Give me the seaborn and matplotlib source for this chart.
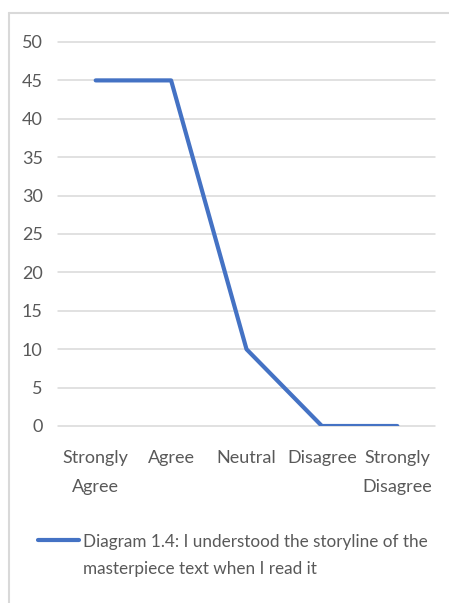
import matplotlib
matplotlib.use("Agg")
import matplotlib.pyplot as plt
from matplotlib.lines import Line2D
from matplotlib.offsetbox import HPacker
import seaborn as sns
import pandas as pd

categories = ["Strongly\nAgree", "Agree", "Neutral", "Disagree", "Strongly\nDisagree"]
values = [45, 45, 10, 0, 0]
y_ticks = [0, 5, 10, 15, 20, 25, 30, 35, 40, 45, 50]
series_label = "Diagram 1.4: I understood the storyline of the\nmasterpiece text when I read it"

sns.set_theme(style="white")
plt.rcParams["font.family"] = ["Lato", "DejaVu Sans"]

TEXT = "#595959"
GRID = "#d9d9d9"
BLUE = "#4472C4"

W, H = 449, 603
fig = plt.figure(figsize=(W / 100, H / 100), dpi=100)
ax = fig.add_axes([58 / W, 1 - 426 / H, (435 - 58) / W, (426 - 42) / H])

df = pd.DataFrame({"category": categories, "value": values})
sns.lineplot(data=df, x="category", y="value", sort=False, ax=ax,
             color=BLUE, linewidth=3.0, solid_capstyle="round",
             solid_joinstyle="round", label=series_label)

ax.set_xlim(-0.5, len(categories) - 0.5)
ax.set_ylim(0, 50)
ax.set_yticks(y_ticks)
ax.set_xlabel("")
ax.set_ylabel("")
for s in ax.spines.values():
    s.set_visible(False)
ax.yaxis.grid(True, color=GRID, linewidth=1.1)
for gl in ax.get_ygridlines():
    gl.set_clip_on(False)
ax.set_axisbelow(True)
ax.tick_params(axis="both", length=0, labelsize=13, colors=TEXT)
ax.tick_params(axis="y", pad=11)
ax.tick_params(axis="x", pad=17.5)
for lbl in ax.get_xticklabels():
    lbl.set_linespacing(1.95)

leg = ax.legend(loc="upper left", bbox_to_anchor=(38 / W, 1 - 534 / H),
                bbox_transform=fig.transFigure, frameon=False,
                fontsize=12.3, handlelength=2.4, handletextpad=0.25,
                borderaxespad=0, borderpad=0)
for t in leg.get_texts():
    t.set_color(TEXT)
    t.set_linespacing(1.85)
for h in leg.get_lines():
    h.set_linewidth(3.0)

# keep the legend key level with the first line of the wrapped label
def _align_top(box):
    if isinstance(box, HPacker):
        box.align = "top"
    for child in box.get_children():
        _align_top(child)

_align_top(leg._legend_handle_box)

# outer chart-area border (left and top edges)
fig.add_artist(Line2D([9 / W, 9 / W], [0, 1 - 13 / H], transform=fig.transFigure,
                      color=GRID, linewidth=1.5))
fig.add_artist(Line2D([9 / W, 1], [1 - 13 / H, 1 - 13 / H], transform=fig.transFigure,
                      color=GRID, linewidth=1.5))

fig.savefig("out.png", dpi=100, facecolor="white")
